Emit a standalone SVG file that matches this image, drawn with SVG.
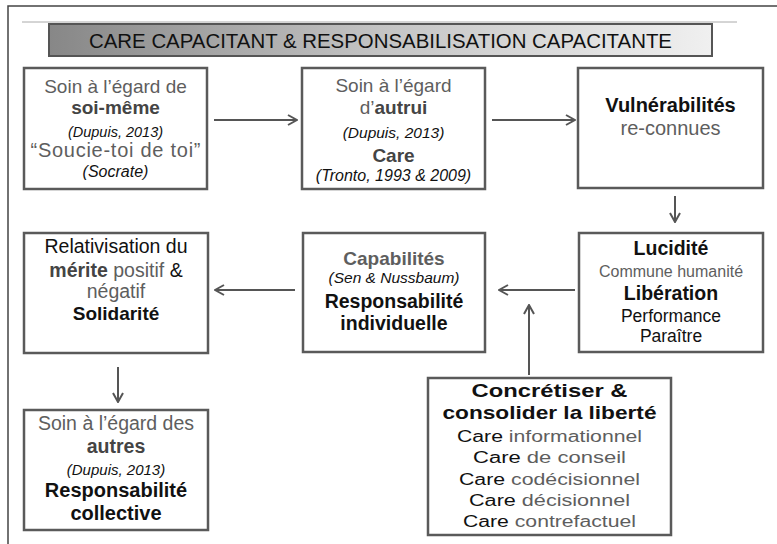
<svg xmlns="http://www.w3.org/2000/svg" width="777" height="544" viewBox="0 0 777 544">
<defs>
<linearGradient id="tg" x1="0" y1="0" x2="1" y2="0">
<stop offset="0" stop-color="#878787"/>
<stop offset="0.5" stop-color="#c4c4c4"/>
<stop offset="1" stop-color="#f0f0f0"/>
</linearGradient>
<marker id="arr" viewBox="0 0 12 12" refX="11" refY="6" markerWidth="12" markerHeight="12" markerUnits="userSpaceOnUse" orient="auto">
<path d="M2,1 L11,6 L2,11" fill="none" stroke="#555" stroke-width="2"/>
</marker>
<style>
text{font-family:"Liberation Sans",Arial,sans-serif;text-anchor:middle;fill:#5e5e5e;font-size:19px}
.box{fill:#fff;stroke:#5a5a5a;stroke-width:2.5}
.b{font-weight:bold}
.k{fill:#111}
.dg{fill:#444}
.i{font-style:italic;fill:#111;font-size:15.5px}
.con{fill:none;stroke:#555;stroke-width:2;marker-end:url(#arr)}
</style>
</defs>
<rect width="777" height="544" fill="#fff"/>
<path d="M8,544 V6 H777" fill="none" stroke="#444" stroke-width="1.5"/>
<line x1="22" y1="22" x2="737" y2="22" stroke="#aaa" stroke-width="1"/>
<g id="title">
<rect x="49" y="24" width="663" height="32" fill="url(#tg)" stroke="#555" stroke-width="2"/>
<text x="380.5" y="47.5" class="k" style="font-size:20px" textLength="583" lengthAdjust="spacingAndGlyphs">CARE CAPACITANT &amp; RESPONSABILISATION CAPACITANTE</text>
</g>
<g id="connectors">
<line class="con" x1="214" y1="120" x2="297" y2="120"/>
<line class="con" x1="492" y1="120" x2="575" y2="120"/>
<line class="con" x1="675" y1="196" x2="675" y2="222"/>
<line class="con" x1="575" y1="290" x2="499" y2="290"/>
<line class="con" x1="529" y1="375" x2="529" y2="305"/>
<line class="con" x1="295" y1="290" x2="215" y2="290"/>
<line class="con" x1="118" y1="367" x2="118" y2="402"/>
</g>
<g id="n1">
<rect class="box" x="24" y="68" width="183" height="121"/>
<text x="115.5" y="93">Soin à l’égard de</text>
<text x="115.5" y="114" class="b dg">soi-même</text>
<text x="115.5" y="137" class="i" style="font-size:14.5px">(Dupuis, 2013)</text>
<text x="115.5" y="157" style="font-size:20px" textLength="170">“Soucie-toi de toi”</text>
<text x="115.5" y="177" class="i" style="font-size:16px">(Socrate)</text>
</g>
<g id="n2">
<rect class="box" x="302" y="68" width="183" height="121"/>
<text x="393.5" y="92">Soin à l’égard</text>
<text x="393.5" y="114">d’<tspan class="b dg">autrui</tspan></text>
<text x="393.5" y="138" class="i">(Dupuis, 2013)</text>
<text x="393.5" y="162" class="b dg">Care</text>
<text x="393.5" y="181" class="i" style="font-size:16px">(Tronto, 1993 &amp; 2009)</text>
</g>
<g id="n3">
<rect class="box" x="578" y="68" width="185" height="120"/>
<text x="670.5" y="112" class="b k" style="font-size:20px">Vulnérabilités</text>
<text x="670.5" y="135" style="font-size:20px">re-connues</text>
</g>
<g id="n4">
<rect class="box" x="579" y="233" width="184" height="119"/>
<text x="671" y="255" class="b k" style="font-size:19.5px">Lucidité</text>
<text x="671" y="277" style="font-size:16px">Commune humanité</text>
<text x="671" y="300" class="b k" style="font-size:19.5px">Libération</text>
<text x="671" y="322" class="k" style="font-size:17.5px">Performance</text>
<text x="671" y="342" class="k" style="font-size:17.5px">Paraître</text>
</g>
<g id="n5">
<rect class="box" x="303" y="233" width="182" height="119"/>
<text x="394" y="265" class="b">Capabilités</text>
<text x="394" y="283" class="i">(Sen &amp; Nussbaum)</text>
<text x="394" y="308" class="b k" style="font-size:19.5px">Responsabilité</text>
<text x="394" y="330" class="b k" style="font-size:19.5px">individuelle</text>
</g>
<g id="n6">
<rect class="box" x="24" y="233" width="184" height="120"/>
<text x="116" y="253" class="k" style="font-size:19.5px">Relativisation du</text>
<text x="116" y="277" style="font-size:19.5px"><tspan class="b dg">mérite</tspan> positif <tspan class="k">&amp;</tspan></text>
<text x="116" y="298" style="font-size:19.5px">négatif</text>
<text x="116" y="320" class="b k">Solidarité</text>
</g>
<g id="n7">
<rect class="box" x="24" y="410" width="184" height="120"/>
<text x="116" y="430" style="font-size:19.5px">Soin à l’égard des</text>
<text x="116" y="453" class="b dg" style="font-size:19.5px">autres</text>
<text x="116" y="475" class="i" style="font-size:15px">(Dupuis, 2013)</text>
<text x="116" y="497" class="b k" style="font-size:20px">Responsabilité</text>
<text x="116" y="520" class="b k" style="font-size:20px">collective</text>
</g>
<g id="n8">
<rect class="box" x="428" y="378" width="243" height="157"/>
<text x="549.5" y="397" class="b k" style="font-size:18.5px" textLength="156" lengthAdjust="spacingAndGlyphs">Concrétiser &amp;</text>
<text x="549.5" y="419" class="b k" style="font-size:18.5px" textLength="214" lengthAdjust="spacingAndGlyphs">consolider la liberté</text>
<text x="549.5" y="442" style="font-size:16px" textLength="185" lengthAdjust="spacingAndGlyphs"><tspan class="k">Care</tspan> informationnel</text>
<text x="549.5" y="463" style="font-size:16px" textLength="153" lengthAdjust="spacingAndGlyphs"><tspan class="k">Care</tspan> de conseil</text>
<text x="549.5" y="485" style="font-size:16px" textLength="181" lengthAdjust="spacingAndGlyphs"><tspan class="k">Care</tspan> codécisionnel</text>
<text x="549.5" y="506" style="font-size:16px" textLength="161" lengthAdjust="spacingAndGlyphs"><tspan class="k">Care</tspan> décisionnel</text>
<text x="549.5" y="527" style="font-size:16px" textLength="173" lengthAdjust="spacingAndGlyphs"><tspan class="k">Care</tspan> contrefactuel</text>
</g>
</svg>
